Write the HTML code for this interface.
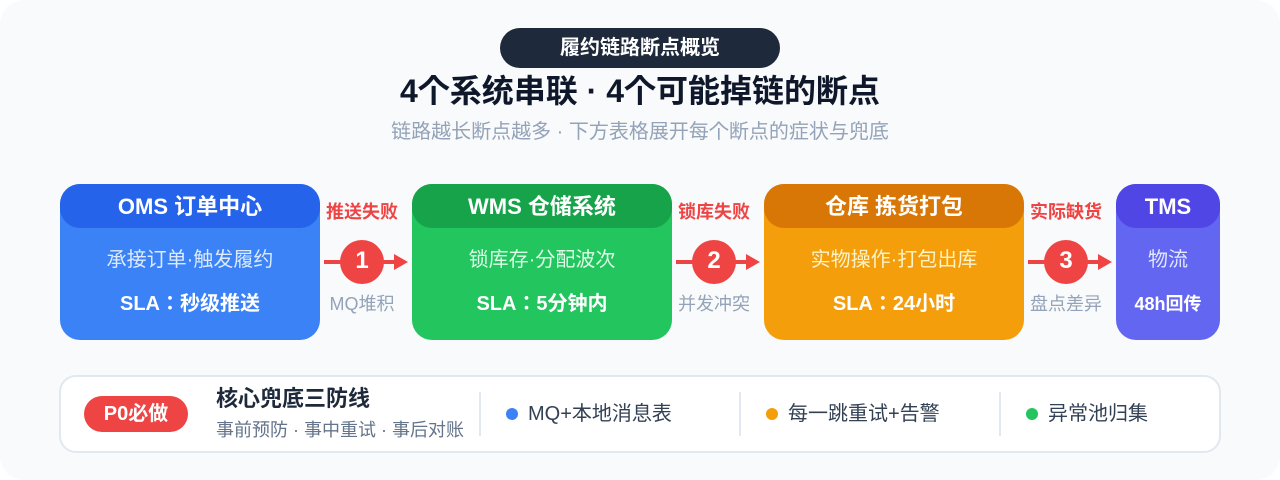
<!DOCTYPE html>
<html lang="ja"><head><meta charset="utf-8"><style>
html,body{margin:0;padding:0;background:#fff;width:1280px;height:480px;overflow:hidden}
svg{display:block}
text{font-family:"Liberation Sans","Noto Sans CJK JP",sans-serif;text-anchor:middle}
.b{font-weight:700}
</style></head><body>
<svg width="1280" height="480" viewBox="0 0 1280 480" xmlns="http://www.w3.org/2000/svg">
<rect width="1280" height="480" rx="24" fill="#f8fafc"/>
<rect x="500" y="28" width="280" height="40" rx="20" fill="#1e293b"/>
<text x="640" y="54" font-size="20" class="b" fill="#fff">履约链路断点概览</text>
<text x="640" y="102" font-size="32" class="b" fill="#0f172a">4个系统串联 · 4个可能掉链的断点</text>
<text x="640" y="138" font-size="20" fill="#94a3b8">链路越长断点越多 · 下方表格展开每个断点的症状与兜底</text>

<rect x="60" y="184" width="260" height="156" rx="20" fill="#3b82f6"/>
<rect x="60" y="184" width="260" height="44" rx="20" fill="#2563eb"/>
<text x="190" y="214" font-size="22" class="b" fill="#fff">OMS 订单中心</text>
<text x="190" y="266" font-size="20" fill="#dbeafe">承接订单·触发履约</text>
<text x="190" y="310" font-size="20" class="b" fill="#fff">SLA：秒级推送</text>

<rect x="412" y="184" width="260" height="156" rx="20" fill="#22c55e"/>
<rect x="412" y="184" width="260" height="44" rx="20" fill="#16a34a"/>
<text x="542" y="214" font-size="22" class="b" fill="#fff">WMS 仓储系统</text>
<text x="542" y="266" font-size="20" fill="#dcfce7">锁库存·分配波次</text>
<text x="542" y="310" font-size="20" class="b" fill="#fff">SLA：5分钟内</text>

<rect x="764" y="184" width="260" height="156" rx="20" fill="#f59e0b"/>
<rect x="764" y="184" width="260" height="44" rx="20" fill="#d97706"/>
<text x="894" y="214" font-size="22" class="b" fill="#fff">仓库 拣货打包</text>
<text x="894" y="266" font-size="20" fill="#fef3c7">实物操作·打包出库</text>
<text x="894" y="310" font-size="20" class="b" fill="#fff">SLA：24小时</text>

<rect x="1116" y="184" width="104" height="156" rx="20" fill="#6366f1"/>
<rect x="1116" y="184" width="104" height="44" rx="20" fill="#4f46e5"/>
<text x="1168" y="214" font-size="22" class="b" fill="#fff">TMS</text>
<text x="1168" y="266" font-size="20" fill="#e0e7ff">物流</text>
<text x="1168" y="310" font-size="18" class="b" fill="#fff">48h回传</text>

<g>
<rect x="324" y="260" width="72" height="4" fill="#ef4444"/>
<polygon points="394,254 408,262 394,270" fill="#ef4444"/>
<circle cx="362" cy="262" r="22" fill="#ef4444"/>
<text x="362" y="268" font-size="24" class="b" fill="#fff">1</text>
<text x="362" y="218" font-size="18" class="b" fill="#ef4444">推送失败</text>
<text x="362" y="310" font-size="18" fill="#94a3b8">MQ堆积</text>
</g>
<g>
<rect x="676" y="260" width="72" height="4" fill="#ef4444"/>
<polygon points="746,254 760,262 746,270" fill="#ef4444"/>
<circle cx="714" cy="262" r="22" fill="#ef4444"/>
<text x="714" y="268" font-size="24" class="b" fill="#fff">2</text>
<text x="714" y="218" font-size="18" class="b" fill="#ef4444">锁库失败</text>
<text x="714" y="310" font-size="18" fill="#94a3b8">并发冲突</text>
</g>
<g>
<rect x="1028" y="260" width="72" height="4" fill="#ef4444"/>
<polygon points="1098,254 1112,262 1098,270" fill="#ef4444"/>
<circle cx="1066" cy="262" r="22" fill="#ef4444"/>
<text x="1066" y="268" font-size="24" class="b" fill="#fff">3</text>
<text x="1066" y="218" font-size="18" class="b" fill="#ef4444">实际缺货</text>
<text x="1066" y="310" font-size="18" fill="#94a3b8">盘点差异</text>
</g>

<rect x="60" y="376" width="1160" height="76" rx="16" fill="#fff" stroke="#e2e8f0" stroke-width="2"/>
<rect x="84" y="396" width="104" height="36" rx="18" fill="#ef4444"/>
<text x="136" y="420" font-size="20" class="b" fill="#fff">P0必做</text>
<text x="216" y="406" font-size="22" class="b" fill="#1e293b" style="text-anchor:start">核心兜底三防线</text>
<text x="216" y="436" font-size="18" fill="#64748b" style="text-anchor:start">事前预防 · 事中重试 · 事后对账</text>
<rect x="479" y="392" width="2" height="44" fill="#e2e8f0"/>
<rect x="739" y="392" width="2" height="44" fill="#e2e8f0"/>
<rect x="999" y="392" width="2" height="44" fill="#e2e8f0"/>
<circle cx="512" cy="414" r="6" fill="#3b82f6"/>
<text x="528" y="420" font-size="20" fill="#334155" style="text-anchor:start">MQ+本地消息表</text>
<circle cx="772" cy="414" r="6" fill="#f59e0b"/>
<text x="788" y="420" font-size="20" fill="#334155" style="text-anchor:start">每一跳重试+告警</text>
<circle cx="1032" cy="414" r="6" fill="#22c55e"/>
<text x="1048" y="420" font-size="20" fill="#334155" style="text-anchor:start">异常池归集</text>
</svg>
</body></html>
